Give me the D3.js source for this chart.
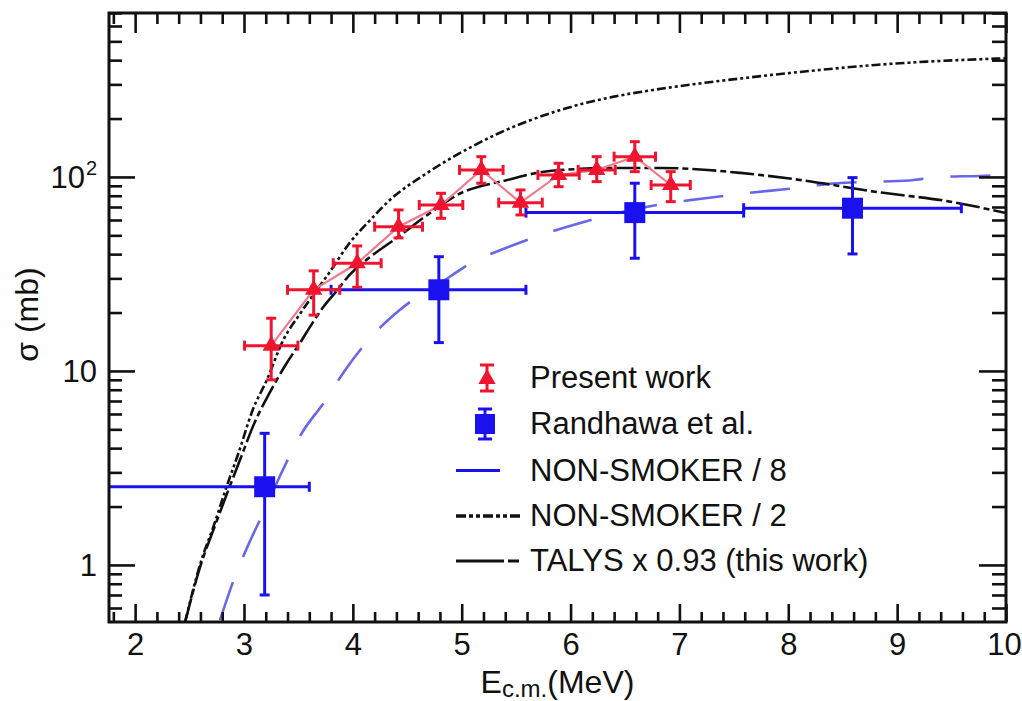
<!DOCTYPE html>
<html><head><meta charset="utf-8">
<script src="https://cdn.jsdelivr.net/npm/d3@7"></script>
<style>
html,body{margin:0;padding:0;background:#fff;}
svg{display:block;font-family:"Liberation Sans",Arial,Helvetica,sans-serif;}
</style></head><body>
<svg id="chart" width="1022" height="701"></svg>
<script>
// ---- Present work: E_cm (MeV), sigma (mb), asymmetric sigma errors, energy half-widths
const presentE       = [3.25, 3.64, 4.04, 4.42, 4.81, 5.18, 5.54, 5.89, 6.24, 6.59, 6.92];
const presentSigma   = [13.5, 26.2, 35.9, 55.4, 71.7, 108.7, 73.7, 102.4, 108.7, 127.2, 90.9];
const presentSigmaLo = [9.0, 19.4, 27.0, 48.5, 61.2, 92.8, 63.7, 89.1, 94.6, 106.5, 74.6];
const presentSigmaHi = [18.7, 32.8, 44.1, 67.6, 82.4, 127.2, 85.7, 117.6, 127.2, 152.0, 106.5];
const presentEErr    = [0.245, 0.24, 0.22, 0.22, 0.2, 0.2, 0.2, 0.19, 0.17, 0.19, 0.18];

// ---- Randhawa et al.
const randE       = [3.19, 4.79, 6.59, 8.59];
const randSigma   = [2.53, 26.2, 65.5, 69.0];
const randSigmaLo = [0.70, 14.0, 38.1, 40.1];
const randSigmaHi = [4.77, 38.8, 92.8, 99.2];
const randELo     = [1.5, 3.80, 5.59, 7.59];
const randEHi     = [3.60, 5.59, 7.59, 9.59];

// ---- NON-SMOKER / 8
const ns8E     = [2.78, 2.90, 3.04, 3.19, 3.35, 3.53, 3.73, 3.94, 4.17, 4.43, 4.89, 5.08, 5.40, 5.78, 6.13, 6.43, 6.89, 7.20, 7.61, 7.99, 8.45, 8.70, 9.11, 9.39, 9.76, 10.0];
const ns8Sigma = [0.52, 0.82, 1.27, 1.92, 3.03, 4.77, 6.82, 10.3, 15.0, 20.6, 30.6, 35.9, 42.9, 51.3, 58.8, 65.2, 73.2, 77.2, 82.4, 86.7, 92.8, 94.2, 95.9, 100, 101.2, 102.4];

// ---- NON-SMOKER / 2
const ns2E     = [2.46, 2.60, 2.72, 2.84, 2.95, 3.08, 3.21, 3.36, 3.52, 3.79, 3.97, 4.16, 4.34, 4.65, 4.87, 5.09, 5.34, 5.63, 5.96, 6.40, 6.76, 7.20, 7.71, 8.29, 8.80, 9.27, 10.0];
const ns2Sigma = [0.51, 1.02, 1.58, 2.53, 3.78, 6.29, 8.99, 14.4, 19.9, 32.5, 45.7, 60.0, 76.1, 102.0, 122.0, 143.0, 168.0, 196.0, 226.0, 259.4, 280.9, 304.1, 328.9, 356.1, 377.9, 392.9, 409.2];

// ---- TALYS x 0.93
const talysE     = [2.46, 2.60, 2.72, 2.85, 2.97, 3.10, 3.24, 3.38, 3.52, 3.63, 3.73, 3.86, 3.97, 4.16, 4.43, 4.71, 4.96, 5.42, 5.69, 6.09, 6.45, 6.82, 7.19, 7.56, 8.11, 8.81, 9.45, 10.0];
const talysSigma = [0.51, 0.99, 1.52, 2.38, 3.56, 5.46, 7.79, 10.7, 14.1, 17.7, 21.4, 26.2, 31.3, 38.7, 49.7, 65.3, 80.8, 96.5, 104.9, 110.0, 111.3, 111.3, 109.3, 104.9, 96.5, 83.7, 75.2, 65.2];

// ---- axes
const xDomain = [1.76, 10];
const yDomain = [0.508, 700];
const xMajor = [2, 3, 4, 5, 6, 7, 8, 9, 10];
const xTickLabels = ["2", "3", "4", "5", "6", "7", "8", "9", "10"];
const xMinor = d3.range(1.8, 10.0, 0.2).map(v => +v.toFixed(1)).filter(v => Math.abs(v - Math.round(v)) > 1e-6);
const yMajor = [1, 10, 100];
const yMinor = [0.6, 0.7, 0.8, 0.9, 2, 3, 4, 5, 6, 7, 8, 9, 20, 30, 40, 50, 60, 70, 80, 90, 200, 300, 400, 500, 600, 700];
const legendLabels = ["Present work", "Randhawa et al.", "NON-SMOKER / 8", "NON-SMOKER / 2", "TALYS x 0.93 (this work)"];

const RED = "#f0152e", PINK = "#f27a8c", BLUE = "#1a12ee", BLUE_CURVE = "#4d4be6", INK = "#111";
const FONT = 31;

const svg = d3.select("#chart");
const plot = {left: 109, right: 1006, top: 13, bottom: 622};
const x = d3.scaleLinear().domain(xDomain).range([plot.left, plot.right]);
const y = d3.scaleLog().domain(yDomain).range([plot.bottom, plot.top]);

svg.append("rect").attr("width", 1022).attr("height", 701).attr("fill", "#fff");
svg.append("defs").append("clipPath").attr("id", "plotclip").append("rect")
  .attr("x", plot.left).attr("y", plot.top)
  .attr("width", plot.right - plot.left).attr("height", plot.bottom - plot.top);

const g = svg.append("g").attr("clip-path", "url(#plotclip)");
const line = d3.line().x(d => x(d[0])).y(d => y(d[1])).curve(d3.curveMonotoneX);

// theory curves
g.append("path").datum(d3.zip(ns8E, ns8Sigma)).attr("d", line)
  .attr("fill", "none").attr("stroke", BLUE_CURVE).attr("stroke-width", 2.6)
  .attr("stroke-dasharray", "40,27").attr("opacity", 0.85);
g.append("path").datum(d3.zip(ns2E, ns2Sigma)).attr("d", line)
  .attr("fill", "none").attr("stroke", INK).attr("stroke-width", 2.6)
  .attr("stroke-dasharray", "9,3,3,3,3,3");
g.append("path").datum(d3.zip(talysE, talysSigma)).attr("d", line)
  .attr("fill", "none").attr("stroke", INK).attr("stroke-width", 2.6)
  .attr("stroke-dasharray", "24,4,6,4");

// Randhawa et al. points with error bars
const randG = g.append("g").attr("stroke", BLUE).attr("stroke-width", 3).attr("fill", "none");
randE.forEach((e, i) => {
  const cx = x(e), cy = y(randSigma[i]);
  const yl = y(randSigmaLo[i]), yh = y(randSigmaHi[i]);
  const xl = x(randELo[i]), xh = x(randEHi[i]);
  randG.append("line").attr("x1", cx).attr("x2", cx).attr("y1", yl).attr("y2", yh);
  randG.append("line").attr("x1", cx - 5).attr("x2", cx + 5).attr("y1", yl).attr("y2", yl);
  randG.append("line").attr("x1", cx - 5).attr("x2", cx + 5).attr("y1", yh).attr("y2", yh);
  randG.append("line").attr("x1", xl).attr("x2", xh).attr("y1", cy).attr("y2", cy);
  randG.append("line").attr("x1", xl).attr("x2", xl).attr("y1", cy - 5).attr("y2", cy + 5);
  randG.append("line").attr("x1", xh).attr("x2", xh).attr("y1", cy - 5).attr("y2", cy + 5);
});
g.selectAll("path.rand").data(randE).join("path").attr("class", "rand")
  .attr("d", d3.symbol(d3.symbolSquare, 441))
  .attr("transform", (e, i) => `translate(${x(e)},${y(randSigma[i])})`)
  .attr("fill", BLUE);

// Present work: connecting line, error bars, markers
g.append("path").datum(d3.zip(presentE, presentSigma))
  .attr("d", d3.line().x(d => x(d[0])).y(d => y(d[1])))
  .attr("fill", "none").attr("stroke", PINK).attr("stroke-width", 2.2);
const presG = g.append("g").attr("stroke", RED).attr("stroke-width", 3).attr("fill", "none");
presentE.forEach((e, i) => {
  const cx = x(e), cy = y(presentSigma[i]);
  const yl = y(presentSigmaLo[i]), yh = y(presentSigmaHi[i]);
  const xl = x(e - presentEErr[i]), xh = x(e + presentEErr[i]);
  presG.append("line").attr("x1", cx).attr("x2", cx).attr("y1", yl).attr("y2", yh);
  presG.append("line").attr("x1", cx - 5).attr("x2", cx + 5).attr("y1", yl).attr("y2", yl);
  presG.append("line").attr("x1", cx - 5).attr("x2", cx + 5).attr("y1", yh).attr("y2", yh);
  presG.append("line").attr("x1", xl).attr("x2", xh).attr("y1", cy).attr("y2", cy);
  presG.append("line").attr("x1", xl).attr("x2", xl).attr("y1", cy - 5).attr("y2", cy + 5);
  presG.append("line").attr("x1", xh).attr("x2", xh).attr("y1", cy - 5).attr("y2", cy + 5);
});
g.selectAll("path.pres").data(presentE).join("path").attr("class", "pres")
  .attr("d", d3.symbol(d3.symbolTriangle, 130))
  .attr("transform", (e, i) => `translate(${x(e)},${y(presentSigma[i])})`)
  .attr("fill", RED);

// ---- ticks on all four sides (pointing inward)
function styleAxis(sel) {
  sel.select(".domain").remove();
  sel.selectAll(".tick line").attr("stroke", INK).attr("stroke-width", 2.6);
  sel.selectAll("text").attr("fill", INK).attr("font-size", FONT)
     .attr("font-family", "'Liberation Sans', Arial, sans-serif");
}
svg.append("g").attr("transform", `translate(0,${plot.bottom})`)
  .call(d3.axisBottom(x).tickValues(xMajor).tickSize(-18).tickPadding(11)
    .tickFormat((d, i) => xTickLabels[i])).call(styleAxis)
  .selectAll(".tick text").attr("dx", d => d === 10 ? -2 : 0);
svg.append("g").attr("transform", `translate(0,${plot.bottom})`)
  .call(d3.axisBottom(x).tickValues(xMinor).tickSize(-10).tickFormat("")).call(styleAxis);
svg.append("g").attr("transform", `translate(0,${plot.top})`)
  .call(d3.axisTop(x).tickValues(xMajor).tickSize(-20).tickFormat("")).call(styleAxis);
svg.append("g").attr("transform", `translate(0,${plot.top})`)
  .call(d3.axisTop(x).tickValues(xMinor).tickSize(-11).tickFormat("")).call(styleAxis);
svg.append("g").attr("transform", `translate(${plot.left},0)`)
  .call(d3.axisLeft(y).tickValues(yMajor).tickSize(-26).tickFormat("")).call(styleAxis);
svg.append("g").attr("transform", `translate(${plot.left},0)`)
  .call(d3.axisLeft(y).tickValues(yMinor).tickSize(-13).tickFormat("")).call(styleAxis);
svg.append("g").attr("transform", `translate(${plot.right},0)`)
  .call(d3.axisRight(y).tickValues(yMajor).tickSize(-27).tickFormat("")).call(styleAxis);
svg.append("g").attr("transform", `translate(${plot.right},0)`)
  .call(d3.axisRight(y).tickValues(yMinor).tickSize(-14).tickFormat("")).call(styleAxis);

// frame
svg.append("rect").attr("x", plot.left).attr("y", plot.top)
  .attr("width", plot.right - plot.left).attr("height", plot.bottom - plot.top)
  .attr("fill", "none").attr("stroke", INK).attr("stroke-width", 3);

// y tick labels: 1, 10, 10^2
const yl = svg.append("g").attr("fill", INK).attr("font-size", FONT);
yl.append("text").attr("x", 97).attr("y", y(1) + 11).attr("text-anchor", "end").text("1");
yl.append("text").attr("x", 97).attr("y", y(10) + 11).attr("text-anchor", "end").text("10");
yl.append("text").attr("x", 85).attr("y", y(100) + 11).attr("text-anchor", "end").text("10");
yl.append("text").attr("x", 86).attr("y", y(100) - 2).attr("font-size", 20).text("2");

// axis titles
const xt = svg.append("text").attr("x", (plot.left + plot.right) / 2).attr("y", 693)
  .attr("text-anchor", "middle").attr("fill", INK).attr("font-size", 32);
xt.append("tspan").text("E");
xt.append("tspan").attr("font-size", 24).attr("dy", 4).text("c.m.");
xt.append("tspan").attr("dy", -4).text("(MeV)");

svg.append("text").attr("transform", `translate(38,${(plot.top + plot.bottom) / 2 - 3}) rotate(-90)`)
  .attr("text-anchor", "middle").attr("fill", INK).attr("font-size", 32).text("σ (mb)");

// ---- legend
const lg = svg.append("g");
const rowY = [378, 424, 470.5, 516, 561];
const textX = 530;
legendLabels.forEach((lab, i) => {
  lg.append("text").attr("x", textX).attr("y", rowY[i] + 10).attr("fill", INK)
    .attr("font-size", FONT).text(lab);
});
// Present work sample
lg.append("line").attr("x1", 487).attr("x2", 487).attr("y1", rowY[0] - 13).attr("y2", rowY[0] + 13)
  .attr("stroke", RED).attr("stroke-width", 3);
[rowY[0] - 13, rowY[0] + 13].forEach(v => lg.append("line").attr("x1", 480).attr("x2", 494)
  .attr("y1", v).attr("y2", v).attr("stroke", RED).attr("stroke-width", 3));
lg.append("path").attr("d", d3.symbol(d3.symbolTriangle, 130)).attr("transform", `translate(487,${rowY[0] + 1})`).attr("fill", RED);
// Randhawa sample
lg.append("line").attr("x1", 485).attr("x2", 485).attr("y1", rowY[1] - 15).attr("y2", rowY[1] + 15)
  .attr("stroke", BLUE).attr("stroke-width", 3);
[rowY[1] - 15, rowY[1] + 15].forEach(v => lg.append("line").attr("x1", 478).attr("x2", 492)
  .attr("y1", v).attr("y2", v).attr("stroke", BLUE).attr("stroke-width", 3));
lg.append("path").attr("d", d3.symbol(d3.symbolSquare, 400)).attr("transform", `translate(485,${rowY[1]})`).attr("fill", BLUE);
// curve samples
lg.append("line").attr("x1", 456).attr("x2", 500).attr("y1", rowY[2]).attr("y2", rowY[2])
  .attr("stroke", BLUE).attr("stroke-width", 3);
lg.append("line").attr("x1", 456).attr("x2", 520).attr("y1", rowY[3]).attr("y2", rowY[3])
  .attr("stroke", INK).attr("stroke-width", 3.5).attr("stroke-dasharray", "10,3,4,3,4,3");
lg.append("line").attr("x1", 456).attr("x2", 519).attr("y1", rowY[4]).attr("y2", rowY[4])
  .attr("stroke", INK).attr("stroke-width", 2.8).attr("stroke-dasharray", "48,4,11,4");
</script>
</body></html>
